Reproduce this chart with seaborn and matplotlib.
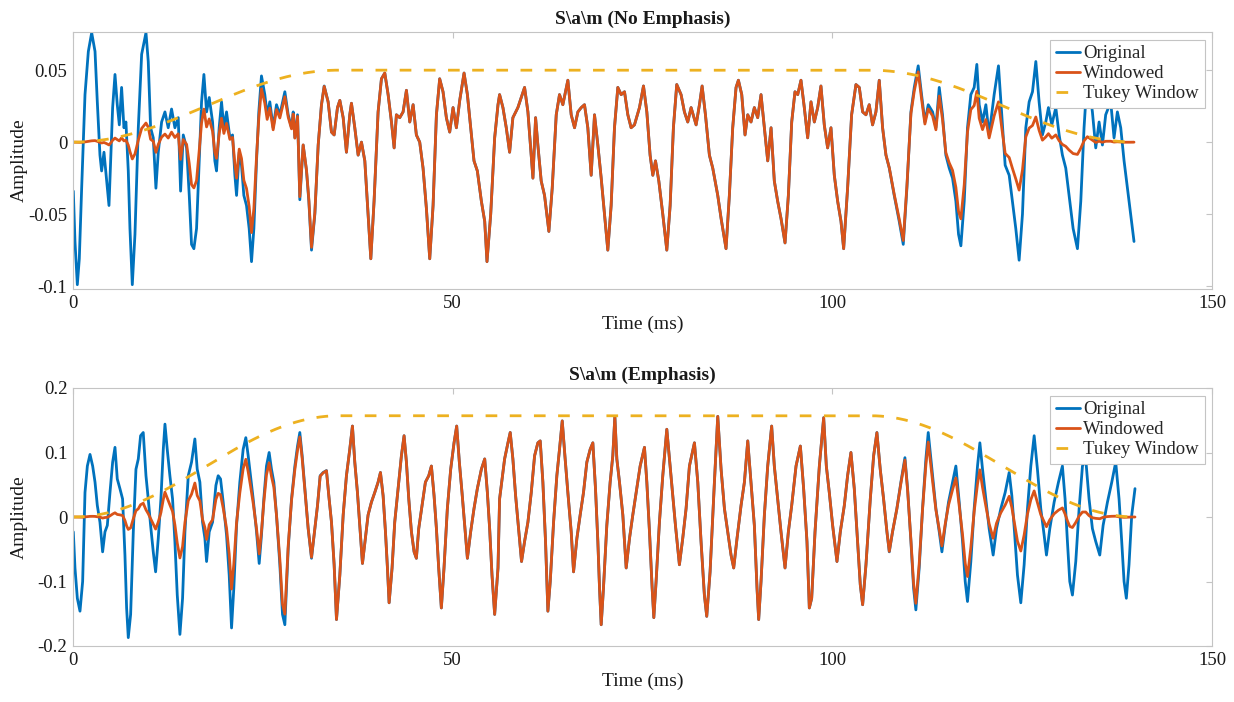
import numpy as np
import matplotlib
matplotlib.use("Agg")
import matplotlib.pyplot as plt
import seaborn as sns

# Sampled vowel waveform /a/ without pre-emphasis: time (ms) and amplitude
t_plain = [
    0.04, 0.26, 0.57, 0.83, 1.14, 1.58, 2.02, 2.46, 2.90, 3.20, 3.55, 3.77, 4.08, 4.43, 4.74, 4.96,
    5.22, 5.53, 5.83, 6.10, 6.40, 6.71, 6.97, 7.28, 7.50, 7.81, 8.16, 8.60, 9.04, 9.61, 9.91, 10.22,
    10.57, 10.92, 11.23, 11.67, 12.11, 12.54, 12.98, 13.42, 13.86, 14.17, 14.52, 14.96, 15.31, 15.61,
    15.92, 16.27, 16.62, 16.93, 17.24, 17.59, 17.94, 18.38, 18.68, 18.90, 19.25, 19.56, 19.87, 20.22,
    20.66, 21.01, 21.32, 21.54, 21.89, 22.19, 22.50, 22.85, 23.20, 23.51, 23.82, 24.17, 24.47, 24.82,
    25.26, 25.57, 25.92, 26.36, 26.80, 27.24, 27.90, 28.34, 28.78, 29.00, 29.22, 29.57, 29.87, 30.31,
    30.75, 31.06, 31.41, 31.85, 32.29, 32.72, 33.08, 33.60, 34.04, 34.39, 34.83, 35.14, 35.58, 36.01,
    36.45, 36.67, 37.11, 37.55, 37.99, 38.43, 38.86, 39.22, 39.65, 40.18, 40.62, 41.06, 41.50, 41.94,
    42.29, 42.59, 43.03, 43.47, 43.91, 44.35, 44.79, 45.22, 45.66, 46.10, 46.54, 46.98, 47.42, 47.86,
    48.29, 48.73, 49.17, 49.61, 50.05, 50.49, 50.93, 51.50, 51.94, 52.37, 52.81, 53.25, 53.78, 54.22,
    54.52, 55.01, 55.53, 55.97, 56.18, 56.62, 57.06, 57.50, 57.93, 58.59, 59.47, 59.91, 60.35, 60.57,
    60.92, 61.22, 61.66, 62.10, 62.67, 63.11, 63.64, 64.07, 64.51, 65.17, 65.61, 66.05, 66.49, 66.93,
    67.36, 67.80, 68.24, 68.68, 69.12, 69.56, 70.00, 70.43, 70.87, 71.31, 71.75, 72.19, 72.63, 73.07,
    73.50, 73.94, 74.60, 75.13, 75.57, 76.00, 76.36, 76.71, 77.15, 77.67, 78.20, 78.64, 79.07, 79.51,
    80.08, 80.52, 80.96, 81.40, 82.06, 82.50, 82.85, 83.29, 83.81, 84.25, 84.91, 85.35, 86.00, 86.44,
    86.88, 87.32, 87.63, 88.07, 88.50, 88.86, 89.29, 89.73, 90.17, 90.61, 91.05, 91.49, 91.93, 92.36,
    92.80, 93.24, 93.77, 94.21, 94.65, 95.08, 95.44, 95.87, 96.31, 96.75, 97.19, 97.63, 98.07, 98.50,
    98.94, 99.38, 99.82, 100.26, 100.70, 101.14, 101.49, 102.01, 102.54, 103.11, 103.55, 103.99,
    104.43, 104.86, 105.30, 105.74, 106.18, 106.62, 107.06, 107.50, 108.15, 108.81, 109.34, 109.82,
    110.35, 110.79, 111.31, 111.75, 112.19, 112.63, 113.20, 113.64, 114.08, 114.51, 114.95, 115.39,
    115.83, 116.27, 116.62, 116.93, 117.37, 117.80, 118.24, 118.68, 119.03, 119.34, 119.78, 120.22,
    120.65, 121.31, 121.88, 122.32, 122.76, 123.29, 123.72, 124.16, 124.60, 125.04, 125.48, 125.92,
    126.36, 126.80, 127.23, 127.67, 128.11, 128.46, 128.90, 129.43, 129.87, 130.30, 130.74, 131.18,
    131.71, 132.28, 132.72, 133.15, 133.59, 134.25, 134.69, 135.13, 135.57, 136.00, 136.66, 137.10,
    137.54, 137.98, 138.42, 138.86, 139.29, 139.73,
]
a_plain = [
    -0.034, -0.069, -0.099, -0.081, -0.032, 0.033, 0.063, 0.076, 0.063, 0.028, -0.009, -0.020, -0.007,
    -0.027, -0.044, -0.013, 0.024, 0.047, 0.026, 0.012, 0.038, 0.010, 0.014, -0.020, -0.060, -0.099,
    -0.064, 0.010, 0.061, 0.076, 0.056, 0.010, 0.003, -0.032, -0.007, 0.014, 0.021, 0.010, 0.023,
    0.010, 0.017, -0.034, 0.005, -0.004, -0.037, -0.071, -0.074, -0.060, -0.013, 0.028, 0.047, 0.021,
    0.031, 0.014, -0.013, -0.020, 0.010, 0.028, 0.010, 0.021, 0.003, 0.005, -0.023, -0.037, -0.007,
    -0.016, -0.037, -0.044, -0.060, -0.083, -0.060, -0.013, 0.021, 0.046, 0.033, 0.019, 0.028, 0.010,
    0.026, 0.019, 0.035, 0.019, 0.010, 0.021, 0.003, 0.019, -0.040, -0.002, -0.020, -0.041, -0.075,
    -0.050, -0.002, 0.026, 0.039, 0.028, 0.007, 0.005, 0.024, 0.029, 0.017, -0.007, 0.019, 0.027,
    0.010, -0.009, 0.000, -0.013, -0.050, -0.081, -0.041, 0.021, 0.044, 0.048, 0.033, 0.014, -0.004,
    0.019, 0.017, 0.021, 0.036, 0.014, 0.026, 0.005, 0.000, -0.018, -0.046, -0.081, -0.044, 0.019,
    0.044, 0.035, 0.017, 0.007, 0.024, 0.010, 0.029, 0.048, 0.033, 0.010, -0.013, -0.020, -0.041,
    -0.055, -0.083, -0.050, 0.003, 0.026, 0.033, 0.024, 0.010, -0.007, 0.017, 0.024, 0.038, 0.021,
    -0.009, -0.025, 0.017, -0.002, -0.027, -0.037, -0.062, -0.032, 0.019, 0.033, 0.026, 0.043, 0.019,
    0.010, 0.021, 0.024, 0.026, 0.010, -0.023, 0.019, -0.002, -0.025, -0.050, -0.075, -0.044, 0.010,
    0.038, 0.033, 0.035, 0.019, 0.010, 0.012, 0.024, 0.039, 0.021, -0.009, -0.023, -0.013, -0.027,
    -0.050, -0.075, -0.044, 0.010, 0.040, 0.033, 0.021, 0.014, 0.024, 0.012, 0.026, 0.039, 0.019,
    -0.009, -0.018, -0.037, -0.053, -0.074, -0.037, 0.010, 0.038, 0.043, 0.033, 0.005, 0.019, 0.014,
    0.024, 0.017, 0.033, 0.010, -0.013, 0.010, -0.027, -0.041, -0.053, -0.070, -0.037, 0.014, 0.035,
    0.033, 0.043, 0.024, 0.003, 0.028, 0.014, 0.024, 0.039, 0.012, -0.004, 0.010, -0.023, -0.041,
    -0.055, -0.074, -0.032, 0.019, 0.040, 0.038, 0.021, 0.019, 0.026, 0.012, 0.021, 0.043, 0.010,
    -0.009, -0.018, -0.037, -0.055, -0.071, -0.032, 0.021, 0.038, 0.053, 0.033, 0.014, 0.026, 0.021,
    0.010, 0.038, 0.019, -0.009, -0.018, -0.025, -0.041, -0.064, -0.072, -0.041, 0.010, 0.033, 0.038,
    0.054, 0.026, 0.014, 0.026, 0.005, 0.033, 0.053, 0.019, -0.016, -0.023, -0.041, -0.060, -0.082,
    -0.050, 0.010, 0.028, 0.035, 0.056, 0.028, 0.005, 0.014, 0.024, 0.012, 0.024, 0.005, -0.009,
    -0.018, -0.037, -0.060, -0.074, -0.041, 0.010, 0.047, 0.021, -0.004, 0.014, -0.002, 0.019, 0.028,
    0.003, 0.021, 0.010, -0.013, -0.032, -0.050, -0.069,
]

# The same vowel after pre-emphasis
t_emph = [
    0.04, 0.26, 0.57, 0.92, 1.27, 1.58, 1.89, 2.24, 2.59, 2.90, 3.20, 3.55, 3.90, 4.21, 4.52, 4.87,
    5.22, 5.53, 5.83, 6.18, 6.53, 6.84, 7.06, 7.28, 7.59, 7.94, 8.29, 8.60, 8.90, 9.25, 9.61, 9.91,
    10.22, 10.57, 10.88, 11.23, 11.58, 11.89, 12.11, 12.41, 12.76, 13.11, 13.42, 13.73, 14.08, 14.43,
    14.74, 15.18, 15.61, 16.05, 16.36, 16.71, 17.06, 17.37, 17.59, 17.94, 18.38, 18.82, 19.12, 19.43,
    19.78, 20.22, 20.57, 20.88, 21.18, 21.54, 21.97, 22.41, 22.76, 23.07, 23.38, 23.73, 24.17, 24.52,
    24.82, 25.13, 25.48, 25.83, 26.14, 26.45, 26.80, 27.24, 27.59, 27.90, 28.34, 28.78, 29.22, 29.57,
    29.87, 30.18, 30.53, 30.97, 31.41, 31.85, 32.20, 32.55, 32.94, 33.38, 33.69, 34.04, 34.39, 34.70,
    35.14, 35.58, 36.01, 36.45, 36.80, 37.11, 37.46, 37.77, 38.12, 38.51, 38.86, 39.30, 39.74, 40.18,
    40.49, 40.84, 41.15, 41.41, 41.63, 42.02, 42.37, 42.81, 43.25, 43.60, 43.91, 44.22, 44.57, 44.92,
    45.22, 45.53, 45.97, 46.41, 46.85, 47.20, 47.55, 47.86, 48.16, 48.51, 48.86, 49.30, 49.74, 50.18,
    50.53, 50.88, 51.23, 51.58, 51.94, 52.37, 52.81, 53.25, 53.78, 54.22, 54.57, 54.87, 55.18, 55.53,
    55.97, 56.18, 56.84, 57.28, 57.58, 57.93, 58.29, 58.72, 59.07, 59.47, 59.91, 60.35, 60.79, 61.22,
    61.53, 61.88, 62.23, 62.54, 62.85, 63.29, 63.72, 64.07, 64.43, 64.78, 65.17, 65.61, 65.92, 66.36,
    66.79, 67.23, 67.67, 68.11, 68.46, 68.81, 69.12, 69.34, 69.56, 69.86, 70.30, 70.74, 71.09, 71.36,
    71.62, 71.97, 72.41, 72.85, 73.29, 73.72, 74.25, 74.69, 75.26, 75.57, 75.92, 76.27, 76.49, 76.79,
    77.23, 77.67, 78.20, 78.55, 78.90, 79.34, 79.86, 80.30, 80.74, 81.18, 81.84, 82.28, 82.71, 83.15,
    83.46, 83.90, 84.47, 84.91, 85.35, 85.79, 86.22, 86.66, 87.01, 87.45, 87.98, 88.42, 88.86, 89.29,
    89.73, 90.08, 90.30, 90.61, 91.05, 91.49, 92.01, 92.36, 92.80, 93.24, 93.77, 94.21, 94.65, 95.22,
    95.79, 96.22, 96.66, 96.97, 97.28, 97.72, 98.29, 98.86, 99.21, 99.60, 100.04, 100.61, 101.05,
    101.58, 102.01, 102.45, 102.89, 103.33, 103.68, 103.99, 104.43, 105.00, 105.44, 105.87, 106.31,
    106.75, 107.19, 107.50, 107.93, 108.50, 109.03, 109.56, 109.91, 110.35, 110.70, 111.00, 111.44,
    111.88, 112.32, 112.63, 113.20, 113.64, 114.08, 114.43, 114.87, 115.30, 115.83, 116.27, 116.71,
    117.15, 117.50, 117.80, 118.24, 118.68, 119.12, 119.43, 119.78, 120.22, 120.65, 121.18, 121.62,
    122.19, 122.76, 123.29, 123.64, 123.99, 124.38, 124.82, 125.26, 125.70, 126.14, 126.58, 127.01,
    127.45, 127.89, 128.20, 128.64, 129.21, 129.78, 130.30, 130.65, 130.96, 131.27, 131.62, 132.06,
    132.50, 132.94, 133.37, 133.81, 134.25, 134.69, 135.22, 135.66, 136.23, 136.80, 137.32, 137.76,
    138.11, 138.42, 138.72, 139.07, 139.43, 139.86,
]
a_emph = [
    -0.023, -0.079, -0.126, -0.146, -0.100, 0.038, 0.079, 0.097, 0.079, 0.054, 0.018, -0.008, -0.054,
    -0.023, -0.013, 0.038, 0.085, 0.108, 0.059, 0.044, 0.028, -0.059, -0.141, -0.187, -0.151, -0.023,
    0.074, 0.090, 0.126, 0.131, 0.064, 0.028, -0.013, -0.054, -0.085, -0.033, 0.028, 0.105, 0.144,
    0.105, 0.064, 0.028, -0.038, -0.121, -0.182, -0.126, -0.023, 0.064, 0.085, 0.121, 0.074, 0.054,
    -0.008, -0.033, -0.069, -0.023, -0.008, 0.049, 0.064, 0.059, 0.023, -0.028, -0.090, -0.172,
    -0.110, -0.013, 0.054, 0.105, 0.123, 0.095, 0.064, 0.028, -0.023, -0.072, -0.028, 0.028, 0.079,
    0.100, 0.074, 0.054, 0.003, -0.074, -0.151, -0.167, -0.049, 0.028, 0.079, 0.110, 0.131, 0.095,
    0.044, -0.018, -0.064, -0.018, 0.018, 0.064, 0.069, 0.072, 0.033, -0.008, -0.074, -0.159, -0.090,
    0.003, 0.064, 0.105, 0.141, 0.085, 0.038, -0.013, -0.072, -0.033, 0.003, 0.023, 0.038, 0.054,
    0.069, 0.033, -0.023, -0.079, -0.133, -0.079, -0.008, 0.044, 0.095, 0.126, 0.085, 0.028, -0.023,
    -0.054, -0.064, -0.018, 0.018, 0.054, 0.064, 0.079, 0.033, -0.018, -0.079, -0.141, -0.079, 0.013,
    0.074, 0.115, 0.141, 0.085, 0.038, -0.013, -0.064, -0.023, 0.013, 0.044, 0.074, 0.090, 0.038,
    -0.018, -0.090, -0.151, -0.079, 0.028, 0.090, 0.115, 0.131, 0.090, 0.033, -0.023, -0.069, -0.038,
    -0.008, 0.038, 0.095, 0.115, 0.118, 0.054, -0.038, -0.146, -0.100, -0.008, 0.064, 0.105, 0.149,
    0.095, 0.038, -0.023, -0.085, -0.033, 0.003, 0.038, 0.085, 0.105, 0.115, 0.044, -0.038, -0.110,
    -0.167, -0.110, -0.013, 0.054, 0.095, 0.156, 0.090, 0.054, 0.003, -0.079, -0.033, 0.003, 0.044,
    0.079, 0.108, 0.054, -0.023, -0.110, -0.156, -0.100, -0.008, 0.064, 0.136, 0.090, 0.044, -0.013,
    -0.074, -0.033, 0.013, 0.079, 0.115, 0.054, -0.038, -0.121, -0.154, -0.085, 0.054, 0.156, 0.074,
    0.013, -0.023, -0.059, -0.079, -0.033, 0.018, 0.054, 0.118, 0.054, -0.013, -0.110, -0.159, -0.100,
    0.003, 0.079, 0.141, 0.079, 0.028, -0.023, -0.079, -0.023, 0.018, 0.079, 0.110, 0.044, -0.038,
    -0.141, -0.126, -0.023, 0.079, 0.154, 0.079, 0.038, -0.013, -0.069, -0.023, 0.018, 0.064, 0.100,
    0.044, -0.038, -0.105, -0.136, -0.074, 0.028, 0.095, 0.131, 0.074, 0.028, -0.023, -0.054, -0.023,
    0.013, 0.054, 0.092, 0.044, -0.038, -0.110, -0.144, -0.079, 0.013, 0.090, 0.131, 0.064, 0.013,
    -0.023, -0.054, -0.013, 0.023, 0.054, 0.079, 0.023, -0.038, -0.100, -0.131, -0.069, 0.013, 0.079,
    0.115, 0.074, 0.028, -0.018, -0.059, -0.018, 0.013, 0.038, 0.069, 0.033, -0.023, -0.090, -0.133,
    -0.074, 0.013, 0.079, 0.126, 0.074, 0.013, -0.028, -0.059, -0.018, 0.023, 0.054, 0.079, 0.028,
    -0.038, -0.100, -0.121, -0.069, 0.013, 0.079, 0.090, 0.028, -0.018, -0.038, -0.059, -0.013, 0.023,
    0.054, 0.085, 0.028, -0.038, -0.100, -0.126, -0.074, 0.003, 0.044,
]

# Tukey window settings and the height at which it is overlaid
duration_ms = 140.0
taper_ratio = 0.5
window_peak_plain = 0.05
window_peak_emph = 0.157

panel_titles = ["S\\a\\m (No Emphasis)", "S\\a\\m (Emphasis)"]
series_labels = ["Original", "Windowed", "Tukey Window"]
x_ticks = [0, 50, 100, 150]
y_ticks_plain = [-0.1, -0.05, 0, 0.05]
y_ticklabels_plain = ["-0.1", "-0.05", "0", "0.05"]
y_ticks_emph = [-0.2, -0.1, 0, 0.1, 0.2]
y_ticklabels_emph = ["-0.2", "-0.1", "0", "0.1", "0.2"]

BLUE = "#0072BD"
ORANGE = "#D95319"
YELLOW = "#EDB120"
FRAME = "#c4c4c4"
TEXT = "#1a1a1a"


def tukey(t, total, r):
    """Tukey (tapered cosine) window evaluated at times t within [0, total]."""
    u = np.asarray(t, dtype=float) / total
    w = np.ones_like(u)
    lo = u < r / 2
    hi = u > 1 - r / 2
    w[lo] = 0.5 * (1 - np.cos(2 * np.pi * u[lo] / r))
    w[hi] = 0.5 * (1 - np.cos(2 * np.pi * (1 - u[hi]) / r))
    return w


sns.set_style("white")
plt.rcParams["font.family"] = ["Liberation Serif", "DejaVu Serif"]
plt.rcParams["axes.linewidth"] = 0.8

fig = plt.figure(figsize=(12.34, 7.02), dpi=100)
ax1 = fig.add_axes([73 / 1234, 1 - 289 / 702, 1139 / 1234, 257 / 702])
ax2 = fig.add_axes([73 / 1234, 1 - 646 / 702, 1139 / 1234, 258 / 702])

t_win = np.linspace(0, duration_ms, 1401)

panels = [
    (ax1, t_plain, a_plain, window_peak_plain, panel_titles[0],
     y_ticks_plain, y_ticklabels_plain, (-0.102, 0.0765)),
    (ax2, t_emph, a_emph, window_peak_emph, panel_titles[1],
     y_ticks_emph, y_ticklabels_emph, (-0.2, 0.2)),
]

for ax, t, a, peak, title, yt, ytl, ylim in panels:
    t = np.asarray(t)
    a = np.asarray(a)
    windowed = a * tukey(t, duration_ms, taper_ratio)
    win_curve = peak * tukey(t_win, duration_ms, taper_ratio)

    sns.lineplot(x=t, y=a, ax=ax, color=BLUE, lw=2.0, sort=False,
                 estimator=None, label=series_labels[0])
    sns.lineplot(x=t, y=windowed, ax=ax, color=ORANGE, lw=2.0, sort=False,
                 estimator=None, label=series_labels[1])
    sns.lineplot(x=t_win, y=win_curve, ax=ax, color=YELLOW, lw=2.0, sort=False,
                 estimator=None, label=series_labels[2], linestyle=(0, (4.2, 4.5)))

    ax.set_xlim(0, 150)
    ax.set_ylim(*ylim)
    ax.set_xticks(x_ticks)
    ax.set_xticklabels([str(v) for v in x_ticks])
    ax.set_yticks(yt)
    ax.set_yticklabels(ytl)
    ax.tick_params(direction="in", length=4, width=0.8, color=FRAME,
                   top=True, right=True, labelsize=13.5, labelcolor=TEXT, pad=4)
    for s in ax.spines.values():
        s.set_color(FRAME)
        s.set_linewidth(0.8)
    ax.set_xlabel("Time (ms)", fontsize=14, color=TEXT, labelpad=3)
    ax.set_ylabel("Amplitude", fontsize=14, color=TEXT)
    ax.yaxis.set_label_coords(-0.040, 0.5)
    ax.set_title(title, fontsize=14, fontweight="bold", color=TEXT, pad=6)

    leg = ax.legend(loc="upper right", fontsize=13.5, handlelength=1.3,
                    handletextpad=0.15, borderpad=0.3, labelspacing=0.15,
                    borderaxespad=0.4, fancybox=False, framealpha=1.0,
                    edgecolor=FRAME)
    leg.get_frame().set_linewidth(0.8)

fig.savefig("out.png", dpi=100, facecolor="white")
